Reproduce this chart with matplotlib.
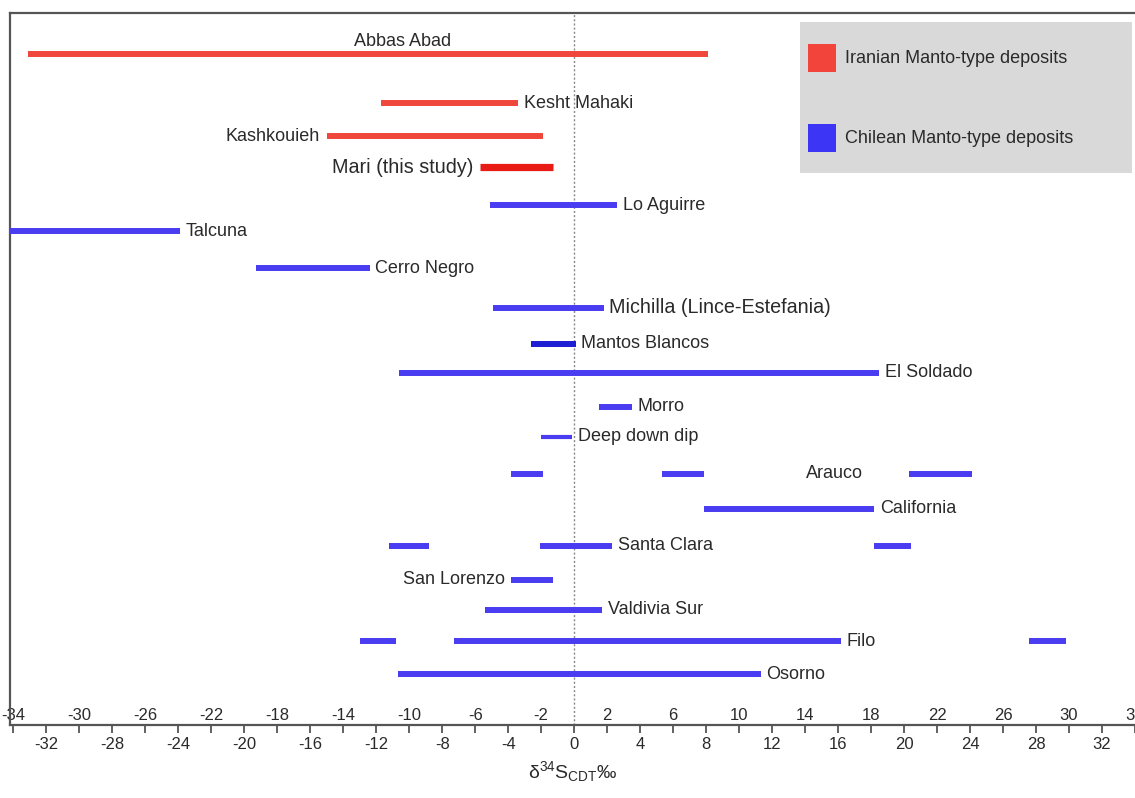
import matplotlib.pyplot as plt
from matplotlib.patches import Rectangle

# d34S ranges of Manto-type Cu deposits, Iran vs Chile

plt.rcParams['font.family'] = ['Liberation Sans', 'DejaVu Sans']
plt.rcParams['mathtext.fontset'] = 'custom'
plt.rcParams['mathtext.rm'] = 'Liberation Sans'
plt.rcParams['mathtext.it'] = 'Liberation Sans:italic'

#=====================================================================
#     Data
#
deposits = ['Abbas Abad', 'Kesht Mahaki', 'Kashkouieh', 'Mari (this study)',
            'Lo Aguirre', 'Talcuna', 'Cerro Negro', 'Michilla (Lince-Estefania)',
            'Mantos Blancos', 'El Soldado', 'Morro', 'Deep down dip', 'Arauco',
            'California', 'Santa Clara', 'San Lorenzo', 'Valdivia Sur', 'Filo',
            'Osorno']
region = ['Iran'] * 4 + ['Chile'] * 15

# min / max of d34S for each deposit (several pieces where the range is split)
d34S_ranges = [
    [(-33.1, 8.1)],
    [(-11.7, -3.4)],
    [(-15.0, -1.9)],
    [(-5.7, -1.3)],
    [(-5.1, 2.6)],
    [(-34.5, -23.9)],
    [(-19.3, -12.4)],
    [(-4.9, 1.8)],
    [(-2.6, 0.1)],
    [(-10.6, 18.5)],
    [(1.5, 3.5)],
    [(-2.0, -0.1)],
    [(-3.8, -1.9), (5.3, 7.9), (20.3, 24.1)],
    [(7.9, 18.2)],
    [(-11.2, -8.8), (-2.1, 2.3), (18.2, 20.4)],
    [(-3.8, -1.3)],
    [(-5.4, 1.7)],
    [(-13.0, -10.8), (-7.3, 16.2), (27.6, 29.8)],
    [(-10.7, 11.3)],
]
#=====================================================================

#=====================================================================
#     Layout
#
row_y = [0, 1.48, 2.48, 3.42, 4.58, 5.36, 6.48, 7.67, 8.76, 9.64, 10.67,
         11.58, 12.70, 13.76, 14.88, 15.91, 16.82, 17.76, 18.76]
# (segment the label is attached to, side)
label_at = [(0, 'above'), (0, 'right'), (0, 'left'), (0, 'left'), (0, 'right'),
            (0, 'right'), (0, 'right'), (0, 'right'), (0, 'right'), (0, 'right'),
            (0, 'right'), (0, 'right'), (2, 'far left'), (0, 'right'), (1, 'right'),
            (0, 'left'), (0, 'right'), (1, 'right'), (0, 'right')]

red = '#f0473c'
blue = '#4a3cf0'
colours = {'Iran': red, 'Chile': blue}
special_colour = {'Mari (this study)': '#e81c14', 'Mantos Blancos': '#1e1ed2'}
big_label = ['Mari (this study)', 'Michilla (Lince-Estefania)']
textsize = 13
ticksize = 12
txtcol = '#2a2a2a'
axcol = '#555555'
#=====================================================================

fig = plt.figure(figsize=(11.35, 7.98), dpi=100)
ax = fig.add_axes([0.0088, 0.0915, 0.9912, 0.892])

for name, reg, segs, y, (k, side) in zip(deposits, region, d34S_ranges, row_y, label_at):
    col = special_colour.get(name, colours[reg])
    lw = 5.2 if name == 'Mari (this study)' else 4.3
    if name == 'Deep down dip':
        lw = 3.0
    for lo, hi in segs:
        ax.plot([lo, hi], [y, y], color=col, lw=lw, solid_capstyle='butt', zorder=3)
    fs = 14.2 if name in big_label else textsize
    lo, hi = segs[k]
    if side == 'right':
        ax.annotate(name, (hi, y), xytext=(4, 0), textcoords='offset points',
                    ha='left', va='center', fontsize=fs, color=txtcol, zorder=4)
    elif side == 'left':
        ax.annotate(name, (lo, y), xytext=(-5, 0), textcoords='offset points',
                    ha='right', va='center', fontsize=fs, color=txtcol, zorder=4)
    elif side == 'far left':
        ax.annotate(name, (lo, y), xytext=(-33, 0), textcoords='offset points',
                    ha='right', va='center', fontsize=fs, color=txtcol, zorder=4)
    else:
        ax.annotate(name, ((lo + hi) / 2, y), xytext=(25, 3), textcoords='offset points',
                    ha='center', va='bottom', fontsize=fs, color=txtcol, zorder=4)

# zero line
ax.axvline(0, color='#888888', lw=1.0, ls=(0, (1.5, 1.5)), zorder=1)

# legend box
ax.add_patch(Rectangle((0.7022, 0.7753), 0.2951, 0.2121, transform=ax.transAxes,
                       facecolor='#d9d9d9', edgecolor='none', zorder=2))
for yy, col, txt in [(0.9368, '#f2443a', 'Iranian Manto-type deposits'),
                     (0.8244, '#3d35f5', 'Chilean Manto-type deposits')]:
    ax.add_patch(Rectangle((0.7093, yy - 0.0197), 0.0249, 0.0393, transform=ax.transAxes,
                           facecolor=col, edgecolor='none', zorder=3))
    ax.text(0.7422, yy, txt, transform=ax.transAxes, ha='left', va='center',
            fontsize=textsize, color=txtcol, zorder=4)

ax.set_xlim(-34.2, 34.0)
ax.set_ylim(20.3, -1.24)

# ticks: multiples of 4 below the axis, the rest above it
ax.set_xticks(range(-32, 33, 4))
ax.set_xticks(range(-34, 35, 4), minor=True)
ax.set_xticklabels([str(v) for v in range(-32, 33, 4)], fontsize=ticksize)
ax.set_xticklabels([str(v) for v in range(-34, 35, 4)], minor=True, fontsize=ticksize)
ax.tick_params(axis='x', which='both', direction='out', length=6, width=1.3,
               color=axcol, labelcolor=txtcol)
ax.tick_params(axis='x', which='major', pad=3)
ax.tick_params(axis='x', which='minor', pad=-18)
ax.set_yticks([])

for s in ['left', 'top', 'bottom']:
    ax.spines[s].set_color(axcol)
    ax.spines[s].set_linewidth(1.6)
ax.spines['right'].set_visible(False)

ax.set_xlabel(r'δ$^{34}$S$_{\mathrm{CDT}}$‰', fontsize=14, labelpad=5, color=txtcol)

plt.savefig('out.png', dpi=100)
